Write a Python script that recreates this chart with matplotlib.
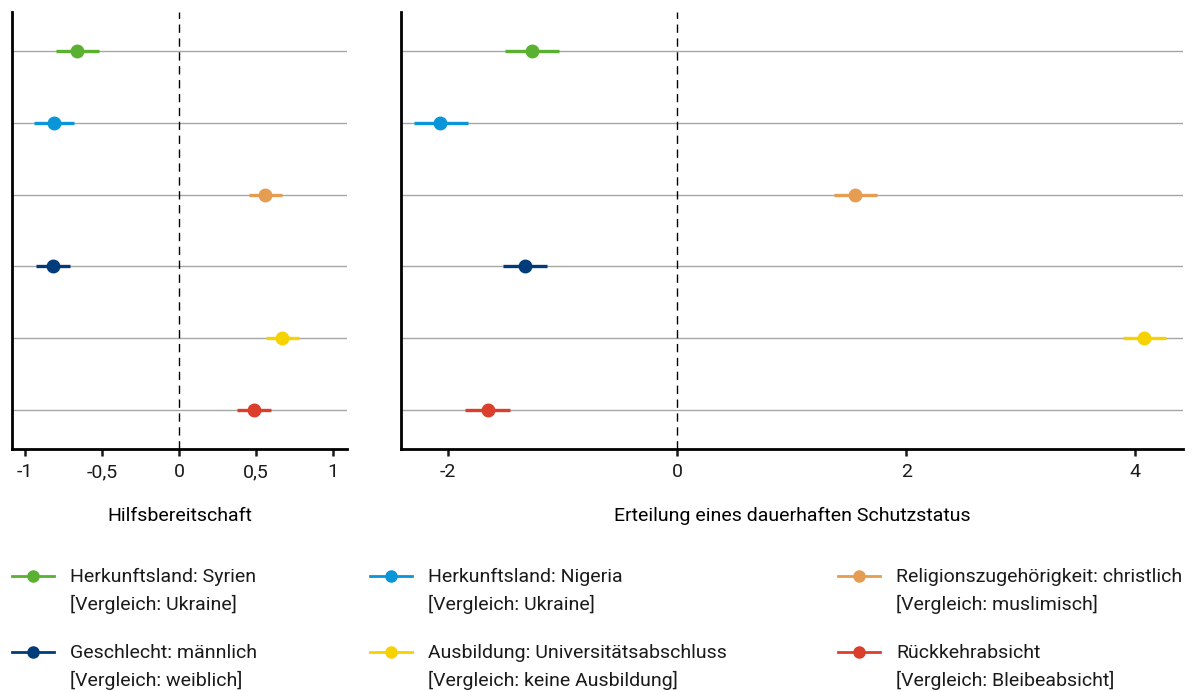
import matplotlib
matplotlib.use("Agg")
import matplotlib.pyplot as plt
from matplotlib.lines import Line2D
from matplotlib import font_manager

# Pick a narrow sans family if available
names = {f.name for f in font_manager.fontManager.ttflist}
family = "Liberation Sans Narrow" if "Liberation Sans Narrow" in names else "Roboto"
plt.rcParams["font.family"] = [family, "DejaVu Sans"]
plt.rcParams["text.color"] = "#1a1a1a"
plt.rcParams["xtick.color"] = "#1a1a1a"

labels = [
    "Herkunftsland: Syrien\n[Vergleich: Ukraine]",
    "Herkunftsland: Nigeria\n[Vergleich: Ukraine]",
    "Religionszugehörigkeit: christlich\n[Vergleich: muslimisch]",
    "Geschlecht: männlich\n[Vergleich: weiblich]",
    "Ausbildung: Universitätsabschluss\n[Vergleich: keine Ausbildung]",
    "Rückkehrabsicht\n[Vergleich: Bleibeabsicht]",
]
colors = ["#5AB031", "#0A95D8", "#E59D52", "#003B7A", "#F6D200", "#DB3E2B"]

# Hilfsbereitschaft: estimate, lower, upper
help_est = [-0.66, -0.81, 0.56, -0.82, 0.67, 0.485]
help_lo = [-0.80, -0.94, 0.457, -0.93, 0.567, 0.377]
help_hi = [-0.52, -0.68, 0.669, -0.706, 0.779, 0.595]

# Erteilung eines dauerhaften Schutzstatus: estimate, lower, upper
prot_est = [-1.27, -2.07, 1.55, -1.33, 4.08, -1.65]
prot_lo = [-1.505, -2.30, 1.37, -1.52, 3.895, -1.85]
prot_hi = [-1.035, -1.83, 1.745, -1.14, 4.27, -1.46]

help_ticks = [-1, -0.5, 0, 0.5, 1]
help_ticklabels = ["-1", "-0,5", "0", "0,5", "1"]
prot_ticks = [-2, 0, 2, 4]
prot_ticklabels = ["-2", "0", "2", "4"]

FS = 14
W, H = 1192, 692
fig = plt.figure(figsize=(W / 100, H / 100), dpi=100)

def px_axes(x0, x1, y0, y1):
    return fig.add_axes([x0 / W, 1 - y1 / H, (x1 - x0) / W, (y1 - y0) / H])

ax1 = px_axes(12, 347, 12, 449)
ax2 = px_axes(401, 1183, 12, 449)

rows = list(range(len(labels), 0, -1))

def draw(ax, est, lo, hi, xlim, ticks, ticklabels, xlabel):
    for y in rows:
        ax.axhline(y, color="#a6a6a6", lw=1.0, zorder=1)
    ax.axvline(0, color="black", lw=1.0, ls=(0, (6, 4)), zorder=1)
    for y, e, l, h, c in zip(rows, est, lo, hi, colors):
        ax.plot([l, h], [y, y], color=c, lw=2.4, solid_capstyle="butt", zorder=2)
        ax.plot([e], [y], "o", color=c, ms=9, zorder=3)
    ax.set_xlim(*xlim)
    ax.set_ylim(0.45, 6.55)
    ax.set_yticks([])
    ax.set_xticks(ticks)
    ax.set_xticklabels(ticklabels, fontsize=FS)
    ax.tick_params(axis="x", length=5, width=1.8, pad=5)
    for s in ("top", "right"):
        ax.spines[s].set_visible(False)
    for s in ("left", "bottom"):
        ax.spines[s].set_linewidth(2.0)
    ax.set_xlabel(xlabel, fontsize=FS, labelpad=19)

draw(ax1, help_est, help_lo, help_hi, (-1.084, 1.09),
     help_ticks, help_ticklabels, "Hilfsbereitschaft")
draw(ax2, prot_est, prot_lo, prot_hi, (-2.412, 4.417),
     prot_ticks, prot_ticklabels, "Erteilung eines dauerhaften Schutzstatus")

# Legend: three columns, two entries each, key aligned with first text line
col_x = [12, 370, 838]
row_y = [576, 652]
for k, (lab, c) in enumerate(zip(labels, colors)):
    x0 = col_x[k % 3]
    y0 = row_y[k // 3]
    yf = 1 - y0 / H
    fig.add_artist(Line2D([x0 / W, (x0 + 42) / W], [yf, yf], color=c, lw=2.0,
                          transform=fig.transFigure))
    fig.add_artist(Line2D([(x0 + 21) / W], [yf], color=c, marker="o", ms=8,
                          transform=fig.transFigure))
    fig.text((x0 + 58) / W, 1 - (y0 - 8) / H, lab, fontsize=FS, va="top",
             ha="left", linespacing=1.56)

fig.savefig("out.png", dpi=100)
